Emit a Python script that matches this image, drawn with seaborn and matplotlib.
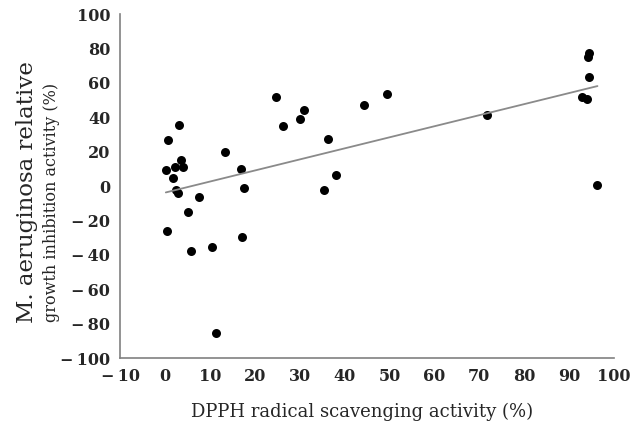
import numpy as np
import pandas as pd
import matplotlib
matplotlib.use("Agg")
import matplotlib.pyplot as plt
import seaborn as sns

sns.set_theme(style="white")
plt.rcParams['font.family'] = ['DejaVu Serif', 'Liberation Serif']

# DPPH radical scavenging activity (%)
dpph = [0.2, 0.7, 3.1, 3.6, 2.2, 4.1, 1.7, 2.4, 3.0, 7.6, 13.4, 16.9, 17.5,
        24.7, 26.4, 30.0, 30.9, 36.2, 38.0, 35.4, 44.3, 49.5, 5.2, 0.5, 5.8,
        10.5, 17.2, 11.4, 71.6, 94.5, 94.1, 94.4, 92.8, 93.9, 96.3]
# M. aeruginosa relative growth inhibition activity (%)
inhibition = [9.3, 27.1, 35.8, 15.1, 11.2, 11.2, 4.8, -2.5, -4.0, -6.6, 19.7, 9.9, -1.0,
              51.9, 34.9, 38.9, 44.1, 27.3, 6.6, -2.4, 47.1, 53.3, -14.9, -26.4, -37.7,
              -35.4, -29.6, -85.7, 41.1, 77.2, 74.9, 63.5, 51.7, 50.8, 0.8]

xticks = list(range(-10, 101, 10))
yticks = list(range(-100, 101, 20))

df = pd.DataFrame({'dpph': dpph, 'inhibition': inhibition})

fig = plt.figure(figsize=(6.4, 4.25), dpi=100)
ax = fig.add_axes([0.1875, 0.1576, 0.772, 0.809])

sns.regplot(data=df, x='dpph', y='inhibition', ax=ax, ci=None,
            scatter_kws={'s': 42, 'color': 'black', 'linewidths': 0, 'alpha': 1},
            line_kws={'color': '#8a8a8a', 'linewidth': 1.3})

def fmt(t):
    return str(t).replace('-', '\u2212\u2009')

ax.set_xlim(-10, 100)
ax.set_ylim(-100, 100)
ax.set_xticks(xticks)
ax.set_yticks(yticks)
ax.set_xticklabels([fmt(t) for t in xticks], fontsize=11.5, fontweight='bold')
ax.set_yticklabels([fmt(t) for t in yticks], fontsize=11.5, fontweight='bold')

sns.despine(ax=ax)
for side in ['left', 'bottom']:
    ax.spines[side].set_color('#808080')
    ax.spines[side].set_linewidth(1.2)
ax.tick_params(axis='both', direction='out', length=5, width=1.2, color='#808080', pad=2)

ax.set_xlabel('')
ax.set_ylabel('')
fig.text(0.566, 0.031, 'DPPH radical scavenging activity (%)', fontsize=13,
         ha='center', va='center')
fig.text(0.042, 0.549, 'M. aeruginosa relative', rotation=90, fontsize=16.5,
         ha='center', va='center')
fig.text(0.081, 0.524, 'growth inhibition activity (%)', rotation=90, fontsize=11.5,
         ha='center', va='center')

fig.savefig('out.png', dpi=100)
